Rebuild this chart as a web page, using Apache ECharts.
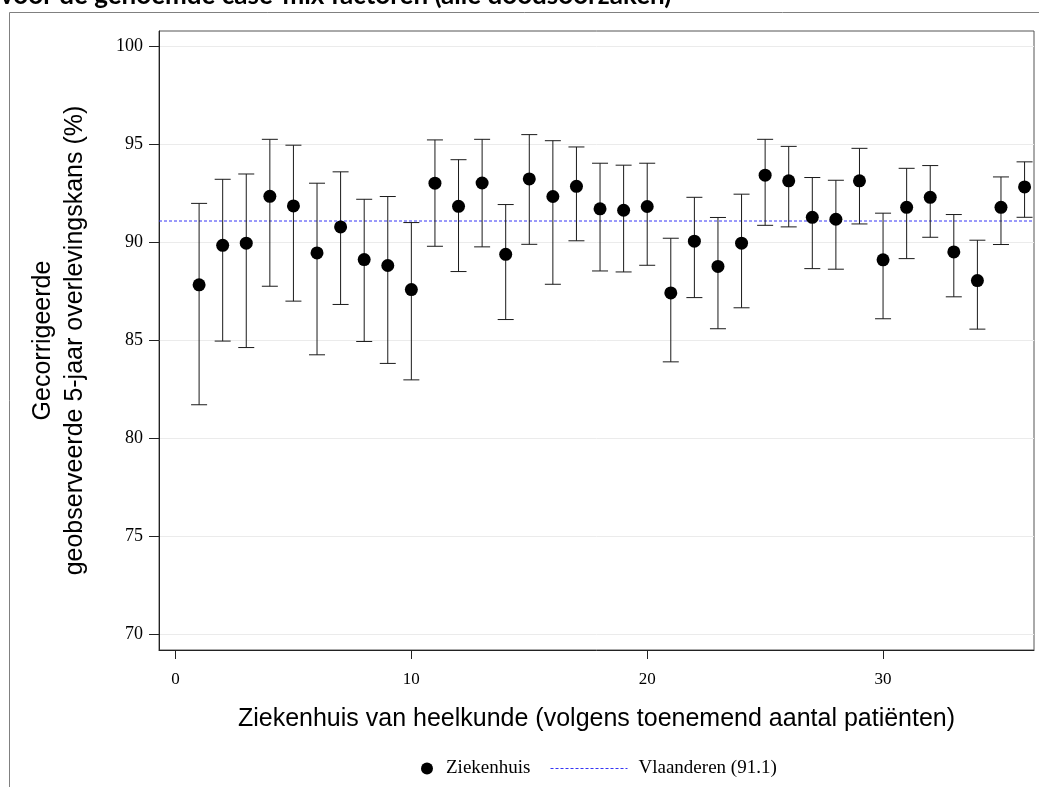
<!DOCTYPE html>
<html>
<head>
<meta charset="utf-8">
<title>Gecorrigeerde geobserveerde 5-jaar overlevingskans</title>
<script src="https://cdn.jsdelivr.net/npm/echarts@6/dist/echarts.min.js"></script>
<style>
  html, body { margin: 0; padding: 0; background: #fff; }
  #chart { width: 1039px; height: 787px; }
</style>
</head>
<body>
<div id="chart"></div>
<script>
// ziekenhuizen, gesorteerd volgens toenemend aantal patiënten
const hospitals = [1, 2, 3, 4, 5, 6, 7, 8, 9, 10, 11, 12, 13, 14, 15, 16, 17, 18,
  19, 20, 21, 22, 23, 24, 25, 26, 27, 28, 29, 30, 31, 32, 33, 34, 35, 36]
const survival = [87.84, 89.86, 89.97, 92.36, 91.87, 89.47, 90.8, 89.13, 88.83, 87.6,
  93.03, 91.85, 93.04, 89.4, 93.25, 92.35, 92.87, 91.72, 91.65, 91.84,
  87.43, 90.07, 88.78, 89.97, 93.44, 93.15, 91.29, 91.19, 93.15, 89.12,
  91.8, 92.31, 89.52, 88.06, 91.8, 92.84]
const lower = [81.72, 84.97, 84.64, 87.77, 87.01, 84.27, 86.84, 84.95, 83.83, 82.99,
  89.81, 88.52, 89.78, 86.07, 89.91, 87.87, 90.09, 88.55, 88.5, 88.84,
  83.91, 87.19, 85.6, 86.67, 90.88, 90.8, 88.67, 88.64, 90.95, 86.11,
  89.18, 90.27, 87.23, 85.58, 89.9, 91.29]
const upper = [92.0, 93.23, 93.5, 95.27, 94.97, 93.03, 93.61, 92.21, 92.35, 91.02,
  95.24, 94.23, 95.27, 91.94, 95.51, 95.2, 94.88, 94.05, 93.95, 94.05,
  90.22, 92.31, 91.28, 92.47, 95.27, 94.91, 93.32, 93.18, 94.81, 91.5,
  93.79, 93.93, 91.43, 90.12, 93.35, 94.12]
const flanders = 91.1
const xTicks = [0, 10, 20, 30]
const yTicks = [70, 75, 80, 85, 90, 95, 100]

const serif = '"Liberation Serif", "DejaVu Serif", serif'
const sans = '"Liberation Sans", Arial, sans-serif'
const blue = '#3535f5'

const chart = echarts.init(document.getElementById('chart'))

const pointData = hospitals.map((h, i) => [h, survival[i]])
const barData = hospitals.map((h, i) => [h, lower[i], upper[i]])

// foutbalk met kapjes boven en onder
function renderErrorBar(params, api) {
  const lo = api.coord([api.value(0), api.value(1)])
  const hi = api.coord([api.value(0), api.value(2)])
  const w = 8
  const style = { stroke: '#1a1a1a', lineWidth: 1, fill: null }
  return {
    type: 'group',
    children: [
      { type: 'line', shape: { x1: lo[0], y1: lo[1], x2: hi[0], y2: hi[1] }, style },
      { type: 'line', shape: { x1: hi[0] - w, y1: hi[1], x2: hi[0] + w, y2: hi[1] }, style },
      { type: 'line', shape: { x1: lo[0] - w, y1: lo[1], x2: lo[0] + w, y2: lo[1] }, style }
    ]
  }
}

// horizontale referentielijn over de hele breedte van het plotvlak
function renderRefLine(params, api) {
  const cs = params.coordSys
  const y = api.coord([0, api.value(0)])[1]
  return {
    type: 'line',
    shape: { x1: cs.x, y1: y, x2: cs.x + cs.width, y2: y },
    style: { stroke: blue, lineWidth: 1, lineDash: [3, 2] }
  }
}

const option = {
  animation: false,
  backgroundColor: '#fff',
  graphic: [
    {
      // afgesneden titel bovenaan
      type: 'text',
      left: 0,
      top: -17,
      style: {
        text: 'voor de genoemde case-mix factoren (alle doodsoorzaken)',
        font: 'bold 26px Lato, "Open Sans", sans-serif',
        fill: '#000'
      }
    },
    {
      type: 'rect',
      shape: { x: 9.5, y: 12.5, width: 1040, height: 800 },
      style: { fill: null, stroke: '#808080', lineWidth: 1 },
      silent: true
    }
  ],
  grid: {
    left: 159,
    top: 31,
    right: 5,
    bottom: 137,
    show: true,
    borderColor: '#555',
    borderWidth: 1
  },
  legend: [
    {
      data: ['Ziekenhuis'],
      left: 416,
      top: 754,
      itemWidth: 28,
      itemHeight: 12,
      itemStyle: { color: '#000', opacity: 1 },
      textStyle: { fontFamily: serif, fontSize: 19, color: '#000' }
    },
    {
      data: ['Vlaanderen (91.1)'],
      left: 545,
      top: 754,
      itemWidth: 77,
      itemHeight: 12,
      itemStyle: { opacity: 0 },
      lineStyle: { color: blue, width: 1, type: [3, 2] },
      textStyle: { fontFamily: serif, fontSize: 19, color: '#000', padding: [0, 0, 0, 6] }
    }
  ],
  xAxis: {
    type: 'value',
    min: -0.7,
    max: 36.4,
    name: 'Ziekenhuis van heelkunde (volgens toenemend aantal patiënten)',
    nameLocation: 'middle',
    nameGap: 57,
    nameTextStyle: { fontFamily: sans, fontSize: 25, color: '#000' },
    axisLine: { show: true, onZero: false, lineStyle: { color: '#222' } },
    axisTick: { show: true, length: 9, customValues: xTicks, lineStyle: { color: '#222' } },
    axisLabel: {
      customValues: xTicks,
      margin: 21,
      fontFamily: serif,
      fontSize: 17,
      color: '#000'
    },
    splitLine: { show: false }
  },
  yAxis: {
    type: 'value',
    min: 69.2,
    max: 100.8,
    name: 'Gecorrigeerde\ngeobserveerde 5-jaar overlevingskans (%)',
    nameLocation: 'middle',
    nameRotate: 90,
    nameGap: 68,
    nameTextStyle: { fontFamily: sans, fontSize: 25, lineHeight: 32, color: '#000', align: 'center' },
    axisLine: { show: true, onZero: false, lineStyle: { color: '#222' } },
    axisTick: { show: true, length: 10, customValues: yTicks, lineStyle: { color: '#222' } },
    axisLabel: {
      customValues: yTicks,
      margin: 16,
      fontFamily: serif,
      fontSize: 18,
      color: '#000'
    },
    splitLine: { show: true, lineStyle: { color: '#ebebeb', width: 1 } }
  },
  series: [
    {
      // alleen voor het legend-icoon (stippellijn)
      name: 'Vlaanderen (91.1)',
      type: 'line',
      data: [],
      symbol: 'none',
      showSymbol: false,
      color: blue,
      lineStyle: { color: blue, width: 1, type: [3, 2] }
    },
    {
      name: 'Vlaanderen (91.1)',
      type: 'custom',
      renderItem: renderRefLine,
      dimensions: ['y'],
      encode: { y: 0 },
      data: [[flanders]],
      silent: true,
      z: 1
    },
    {
      name: 'Foutbalk',
      type: 'custom',
      renderItem: renderErrorBar,
      encode: { x: 0, y: [1, 2] },
      data: barData,
      z: 2
    },
    {
      name: 'Ziekenhuis',
      type: 'scatter',
      symbol: 'circle',
      symbolSize: 13,
      itemStyle: { color: '#000', opacity: 1 },
      data: pointData,
      z: 3
    }
  ]
}

chart.setOption(option)

window.addEventListener('resize', () => {
  chart.resize()
})
</script>
</body>
</html>
